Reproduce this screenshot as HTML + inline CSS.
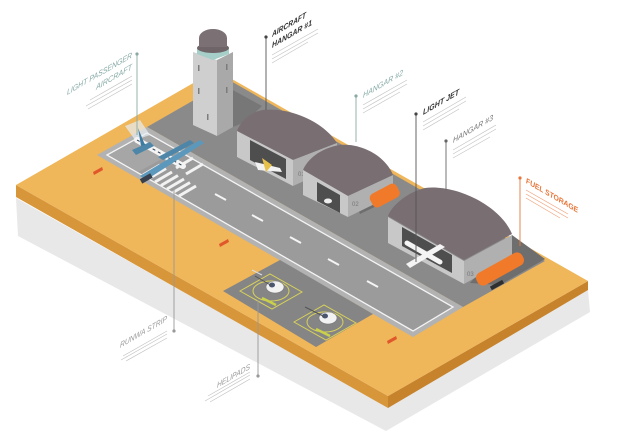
<!DOCTYPE html>
<html><head><meta charset="utf-8"><style>
html,body{margin:0;padding:0;background:#fff;}
svg{display:block;font-family:"Liberation Sans",sans-serif;}
</style></head><body>
<svg width="626" height="439" viewBox="0 0 626 439" xmlns="http://www.w3.org/2000/svg">
<!-- shadow -->
<polygon points="16,198 18,236 386,431 590,312 588,290 388,407" fill="#e8e8e8"/>
<!-- base sides -->
<polygon points="16,185 388,396 388,408 16,197" fill="#d8963a"/>
<polygon points="388,396 588,281 588,290 388,408" fill="#c6832c"/>
<!-- base top -->
<polygon points="16,185 216,70 588,281 388,396" fill="#efb65a"/>
<!-- back apron -->
<polygon points="147,127 229,80 545,261 463,307" fill="#8a8a8a"/>
<!-- runway pad -->
<polygon points="97,155 147,127 463,307 413,337" fill="#b2b2b2"/>
<polygon points="107,155 147,133 453,307 413,331" fill="#9b9b9b" stroke="#f4f4f4" stroke-width="1.3"/>
<polygon points="109,155 147,134 176,151 138,172" fill="#a6a6a6"/>
<!-- helipad area -->
<polygon points="223,291 280,260 373,314 316,347" fill="#858585"/>
<g fill="none" stroke="#d8d25a" stroke-width="1">
<polygon points="240,291 270,274 302,292 272,309"/>
<ellipse cx="271" cy="291" rx="18" ry="10"/>
<polygon points="294,322 324,305 356,323 326,340"/>
<ellipse cx="325" cy="322" rx="18" ry="10"/>
</g>
<line x1="262" y1="298" x2="276" y2="305" stroke="#c9d04a" stroke-width="2.5"/>
<line x1="316" y1="329" x2="330" y2="336" stroke="#c9d04a" stroke-width="2.5"/>
<g>
<ellipse cx="275" cy="287" rx="9" ry="6" fill="#f2f2f2" stroke="#777" stroke-width="0.6"/>
<ellipse cx="272" cy="285" rx="3" ry="2.5" fill="#4a5570"/>
<line x1="255" y1="276" x2="272" y2="286" stroke="#555" stroke-width="1"/>
<line x1="252" y1="270" x2="262" y2="275" stroke="#ddd" stroke-width="1.2"/>
<ellipse cx="328" cy="318" rx="9" ry="6" fill="#f2f2f2" stroke="#777" stroke-width="0.6"/>
<ellipse cx="325" cy="316" rx="3" ry="2.5" fill="#4a5570"/>
<line x1="305" y1="307" x2="325" y2="317" stroke="#555" stroke-width="1"/>
</g>
<!-- crosswalk -->
<g stroke="#f2f2f2" stroke-width="3">
<line x1="143" y1="175" x2="160" y2="165"/>
<line x1="149" y1="178.5" x2="166" y2="168.5"/>
<line x1="155" y1="182" x2="172" y2="172"/>
<line x1="161" y1="185.5" x2="178" y2="175.5"/>
<line x1="167" y1="189" x2="184" y2="179"/>
<line x1="173" y1="192.5" x2="190" y2="182.5"/>
<line x1="179" y1="196" x2="196" y2="186"/>
<line x1="166" y1="162" x2="183" y2="152"/>
<line x1="176" y1="168" x2="193" y2="158"/>
<line x1="186" y1="174" x2="203" y2="164"/>
</g>
<g stroke="#f4f4f4" stroke-width="2">
<line x1="215" y1="194" x2="226" y2="200"/>
<line x1="252" y1="215" x2="263" y2="221"/>
<line x1="290" y1="237" x2="301" y2="243"/>
<line x1="328" y1="259" x2="339" y2="265"/>
<line x1="367" y1="281" x2="378" y2="287"/>
</g>
<g fill="#e0572b">
<polygon points="93,172 102,167 103,170 94,175"/>
<polygon points="219,244 228,239 229,242 220,247"/>
<polygon points="387,341 396,336 397,339 388,344"/>
</g>
<!-- plane -->
<g>
<polygon points="125,126 140,120 150,135 135,140" fill="#e8eef2" opacity="0.7"/>
<line x1="137" y1="140" x2="183" y2="166" stroke="#f4f4f4" stroke-width="6" stroke-linecap="round"/>
<line x1="137" y1="140" x2="183" y2="166" stroke="#2f3d4f" stroke-width="1" stroke-dasharray="3 3"/>
<polygon points="132,150 150,142 154,146 136,155" fill="#4d86a8"/>
<polygon points="140,176 200,140 204,143 146,180" fill="#5b98bb"/>
<polygon points="158,157 190,140 194,143 163,160" fill="#4d86a8"/>
<polygon points="138,128 145,145 141,146" fill="#3f7aa0"/>
<rect x="140" y="176" width="12" height="5" fill="#37404c" transform="rotate(-30 146 178)"/>
</g>
<!-- tower -->
<polygon points="229,88 262,106 245,122 233,127" fill="#777"/>
<polygon points="193,52 217,60 217,136 193,125" fill="#cfcfcf"/>
<polygon points="217,60 233,52 233,127 217,136" fill="#a9a9a9"/>
<g fill="#7c7c7c"><rect x="198" y="65" width="1.5" height="6"/><rect x="226" y="64" width="1.5" height="6"/><rect x="198" y="88" width="1.5" height="6"/><rect x="226" y="87" width="1.5" height="6"/><rect x="207" y="114" width="1.5" height="6"/></g>
<polygon points="197,47 213,52 229,47 229,54 213,60 197,54" fill="#a6cfca"/>
<ellipse cx="213" cy="48" rx="16" ry="5" fill="#6f6568"/>
<ellipse cx="213" cy="38" rx="14" ry="9" fill="#7b7074"/>
<rect x="199" y="38" width="28" height="9" fill="#7b7074"/>
<!-- hangar 1 -->
<path d="M237,131 L293,160 L337,143 C322,120 288,107 263,110 C250,112 240,122 237,131 Z" fill="#796e72"/>
<polygon points="237,131 293,160 293,186 237,157" fill="#c8c8c8"/>
<polygon points="293,160 337,143 337,166 293,186" fill="#b0b0b0"/>
<polygon points="250,140 286,159 286,179 250,160" fill="#4e4e4e"/>
<polygon points="255,162 280,168 282,172 258,170" fill="#f2f2f2"/>
<polygon points="262,158 272,165 266,172" fill="#e7c24a"/>
<text x="298" y="176" font-size="6" fill="#777">01</text>
<!-- hangar 2 -->
<polygon points="337,150 393,175 393,198 360,214" fill="#6e6e6e"/>
<path d="M303,170 L348,196 L393,175 C385,155 360,143 340,145 C320,148 307,160 303,170 Z" fill="#796e72"/>
<polygon points="303,170 348,196 348,217 303,195" fill="#c8c8c8"/>
<polygon points="348,196 393,175 393,195 348,217" fill="#b0b0b0"/>
<polygon points="317,182 340,195 340,213 317,201" fill="#4e4e4e"/>
<ellipse cx="328" cy="201" rx="4" ry="2.5" fill="#eee"/>
<text x="352" y="206" font-size="6" fill="#777">02</text>
<rect x="370" y="188" width="30" height="15" rx="5" fill="#f07a2a" transform="rotate(-28 385 196)"/>
<!-- hangar 3 -->
<polygon points="512,235 545,259 500,285 470,283" fill="#6e6e6e"/>
<path d="M388,216 L464,260 L512,234 C500,205 455,184 425,188 C408,192 392,205 388,216 Z" fill="#796e72"/>
<polygon points="388,217 464,261 464,284 388,243" fill="#c8c8c8"/>
<polygon points="464,261 512,235 512,257 464,284" fill="#b0b0b0"/>
<polygon points="402,227 452,255 452,273 402,246" fill="#4e4e4e"/>
<polygon points="406,264 440,244 445,247 410,268" fill="#f4f4f4"/>
<line x1="407" y1="243" x2="440" y2="262" stroke="#f4f4f4" stroke-width="5" stroke-linecap="round"/>
<text x="467" y="276" font-size="6" fill="#777">03</text>
<rect x="474" y="262" width="52" height="14" rx="6" fill="#f07a2a" transform="rotate(-29 500 269)"/>
<rect x="490" y="283" width="14" height="4" fill="#2f2f2f" transform="rotate(-29 497 285)"/>
<!-- leader lines -->
<g stroke-width="0.9">
<line x1="137" y1="54" x2="137" y2="135" stroke="#8aa9a5"/>
<line x1="266" y1="37" x2="266" y2="110" stroke="#555"/>
<line x1="356" y1="96" x2="356" y2="142" stroke="#8aa9a5"/>
<line x1="416" y1="114" x2="416" y2="262" stroke="#555"/>
<line x1="446" y1="141" x2="446" y2="190" stroke="#666"/>
<line x1="520" y1="178" x2="520" y2="246" stroke="#e8763a"/>
<line x1="174" y1="190" x2="174" y2="331" stroke="#999"/>
<line x1="258" y1="300" x2="258" y2="376" stroke="#999"/>
</g>
<g>
<circle cx="137" cy="54" r="1.6" fill="#8aa9a5"/>
<circle cx="266" cy="37" r="1.6" fill="#444"/>
<circle cx="356" cy="96" r="1.6" fill="#8aa9a5"/>
<circle cx="416" cy="114" r="1.6" fill="#444"/>
<circle cx="446" cy="141" r="1.6" fill="#666"/>
<circle cx="520" cy="178" r="1.6" fill="#e8763a"/>
<circle cx="174" cy="331" r="1.6" fill="#999"/>
<circle cx="258" cy="376" r="1.6" fill="#999"/>
</g>
<!-- labels -->
<g font-size="8" font-style="italic">
<text transform="translate(67,95) skewY(-30)" fill="#86aaa6" textLength="65" lengthAdjust="spacingAndGlyphs">LIGHT PASSENGER</text>
<text transform="translate(96,90) skewY(-30)" fill="#86aaa6" textLength="36" lengthAdjust="spacingAndGlyphs">AIRCRAFT</text>
<text transform="translate(272,37) skewY(-30)" fill="#333" font-weight="bold" textLength="34" lengthAdjust="spacingAndGlyphs">AIRCRAFT</text>
<text transform="translate(272,48) skewY(-30)" fill="#333" font-weight="bold" textLength="40" lengthAdjust="spacingAndGlyphs">HANGAR #1</text>
<text transform="translate(363,98) skewY(-30)" fill="#86aaa6" textLength="40" lengthAdjust="spacingAndGlyphs">HANGAR #2</text>
<text transform="translate(423,115) skewY(-30)" fill="#333" font-weight="bold" textLength="36" lengthAdjust="spacingAndGlyphs">LIGHT JET</text>
<text transform="translate(453,143) skewY(-30)" fill="#777" textLength="40" lengthAdjust="spacingAndGlyphs">HANGAR #3</text>
<text transform="translate(526,183) skewY(30)" fill="#e8763a" font-weight="bold" textLength="52" lengthAdjust="spacingAndGlyphs">FUEL STORAGE</text>
<text transform="translate(120,348) skewY(-30)" fill="#999" textLength="47" lengthAdjust="spacingAndGlyphs">RUNWA STRIP</text>
<text transform="translate(217,388) skewY(-30)" fill="#999" textLength="33" lengthAdjust="spacingAndGlyphs">HELIPADS</text>
</g>
<g stroke="#c4c4c4" stroke-width="0.7">
<line x1="90" y1="100" x2="132" y2="76"/><line x1="86" y1="106" x2="132" y2="80"/><line x1="88" y1="109" x2="132" y2="84"/>
<line x1="272" y1="55" x2="318" y2="29"/><line x1="272" y1="59" x2="318" y2="33"/><line x1="272" y1="63" x2="308" y2="42"/>
<line x1="363" y1="105" x2="407" y2="80"/><line x1="363" y1="109" x2="407" y2="84"/><line x1="363" y1="113" x2="400" y2="92"/>
<line x1="423" y1="122" x2="466" y2="97"/><line x1="423" y1="126" x2="466" y2="101"/><line x1="423" y1="130" x2="459" y2="109"/>
<line x1="453" y1="150" x2="496" y2="125"/><line x1="453" y1="154" x2="496" y2="129"/><line x1="453" y1="158" x2="490" y2="137"/>
<line x1="123" y1="356" x2="167" y2="331"/><line x1="121" y1="360" x2="167" y2="334"/><line x1="126" y1="361" x2="167" y2="338"/>
<line x1="208" y1="396" x2="250" y2="372"/><line x1="205" y1="401" x2="250" y2="375"/><line x1="210" y1="402" x2="250" y2="379"/>
</g>
<g stroke="#f0a27a" stroke-width="0.7">
<line x1="526" y1="190" x2="568" y2="214"/><line x1="526" y1="194" x2="568" y2="218"/><line x1="526" y1="198" x2="560" y2="218"/>
</g>
</svg>
</body></html>
